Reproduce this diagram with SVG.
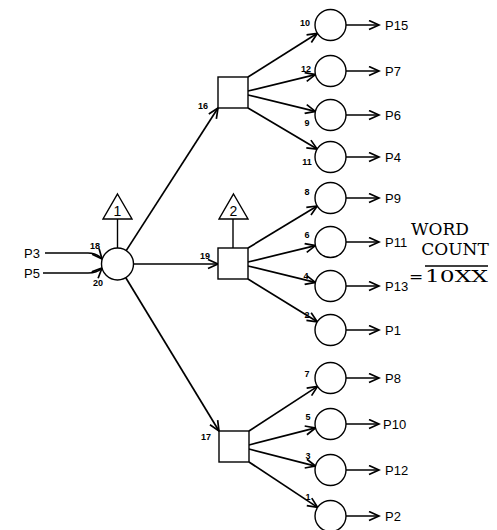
<svg xmlns="http://www.w3.org/2000/svg" width="497" height="530" viewBox="0 0 497 530">
<style>
.shape { fill: #fff; stroke: #000; stroke-width: 1.4; }
.conn { fill: none; stroke: #000; stroke-width: 1.7; marker-end: url(#ah); }
.plain { fill: none; stroke: #000; stroke-width: 1.4; }
.lbl { font-family: "Liberation Sans", Arial, sans-serif; font-size: 13px; fill: #000; }
.num { font-family: "Liberation Sans", Arial, sans-serif; font-size: 9px; font-weight: bold; text-anchor: middle; dominant-baseline: central; fill: #000; }
.tri { font-family: "Liberation Sans", Arial, sans-serif; font-size: 14px; text-anchor: middle; dominant-baseline: central; fill: #000; }
.wc { font-family: "DejaVu Serif", "Liberation Serif", serif; font-size: 17px; fill: #000; }
</style>
<defs>
<marker id="ah" markerUnits="userSpaceOnUse" markerWidth="13" markerHeight="11" refX="11" refY="5.5" orient="auto" viewBox="0 0 13 11">
<path d="M1,1 L11,5.5 L1,10" fill="none" stroke="#000" stroke-width="1.7"/>
</marker>
</defs>
<rect width="497" height="530" fill="#fff"/>

<g id="connectors">
<path class="conn" d="M45,253 L88,253 Q97,253 102,259"/>
<path class="conn" d="M43,273 L88,273 Q97,273 102,268"/>
<line class="plain" x1="117.5" y1="219" x2="117.5" y2="248"/>
<line class="plain" x1="233" y1="219" x2="233" y2="248"/>
<line class="conn" x1="126.2" y1="250.6" x2="218" y2="108"/>
<line class="conn" x1="133.5" y1="264" x2="218" y2="264"/>
<line class="conn" x1="125.8" y1="277.7" x2="219" y2="431"/>
<line class="conn" x1="248" y1="77" x2="317.4" y2="33.3"/>
<line class="conn" x1="248" y1="91" x2="315.4" y2="74.6"/>
<line class="conn" x1="248" y1="95" x2="315.4" y2="111.4"/>
<line class="conn" x1="248" y1="108" x2="317.2" y2="149.1"/>
<line class="conn" x1="248" y1="248" x2="317.2" y2="206"/>
<line class="conn" x1="248" y1="262" x2="315.4" y2="245.6"/>
<line class="conn" x1="248" y1="266" x2="315.4" y2="282.4"/>
<line class="conn" x1="248" y1="279" x2="317.3" y2="321.8"/>
<line class="conn" x1="249" y1="431" x2="317.5" y2="386.4"/>
<line class="conn" x1="249" y1="445" x2="315.5" y2="427.9"/>
<line class="conn" x1="249" y1="449" x2="315.5" y2="466.1"/>
<line class="conn" x1="249" y1="462" x2="317.6" y2="507.4"/>
<line class="conn" x1="346" y1="25" x2="379" y2="25"/>
<line class="conn" x1="346" y1="71" x2="379" y2="71"/>
<line class="conn" x1="346" y1="115" x2="379" y2="115"/>
<line class="conn" x1="346" y1="157" x2="379" y2="157"/>
<line class="conn" x1="346" y1="198" x2="379" y2="198"/>
<line class="conn" x1="346" y1="242" x2="379" y2="242"/>
<line class="conn" x1="346" y1="286" x2="379" y2="286"/>
<line class="conn" x1="346" y1="330" x2="379" y2="330"/>
<line class="conn" x1="346" y1="378" x2="379" y2="378"/>
<line class="conn" x1="346" y1="424" x2="379" y2="424"/>
<line class="conn" x1="346" y1="470" x2="379" y2="470"/>
<line class="conn" x1="346" y1="516" x2="379" y2="516"/>
<text class="num" x="95" y="246">18</text>
<text class="num" x="98" y="282.5">20</text>
<text class="num" x="203" y="106">16</text>
<text class="num" x="205" y="256">19</text>
<text class="num" x="206" y="437">17</text>
<text class="num" x="305" y="23">10</text>
<text class="num" x="306" y="69">12</text>
<text class="num" x="307" y="123">9</text>
<text class="num" x="307" y="162">11</text>
<text class="num" x="307" y="192">8</text>
<text class="num" x="307" y="235">6</text>
<text class="num" x="306" y="276">4</text>
<text class="num" x="307" y="315">2</text>
<text class="num" x="307" y="374">7</text>
<text class="num" x="308" y="417">5</text>
<text class="num" x="308" y="456">3</text>
<text class="num" x="308" y="497">1</text>
</g>

<g id="input-p3"><text class="lbl" x="24" y="258">P3</text></g>
<g id="input-p5"><text class="lbl" x="24" y="278">P5</text></g>

<g id="node-main"><circle class="shape" cx="117.5" cy="264" r="16"/></g>
<g id="tri-1"><polygon class="shape" points="117.5,194 132,219 103,219"/><text class="tri" x="117.5" y="210.5">1</text></g>
<g id="tri-2"><polygon class="shape" points="233.5,194 248,219 219,219"/><text class="tri" x="233.5" y="210.5">2</text></g>

<g id="square-16"><rect class="shape" x="218" y="77" width="30" height="31"/></g>
<g id="square-19"><rect class="shape" x="218" y="248" width="30" height="31"/></g>
<g id="square-17"><rect class="shape" x="219" y="431" width="30" height="31"/></g>

<g id="node-p15"><circle class="shape" cx="330.5" cy="25" r="15.5"/></g>
<g id="node-p7"><circle class="shape" cx="330.5" cy="71" r="15.5"/></g>
<g id="node-p6"><circle class="shape" cx="330.5" cy="115" r="15.5"/></g>
<g id="node-p4"><circle class="shape" cx="330.5" cy="157" r="15.5"/></g>
<g id="node-p9"><circle class="shape" cx="330.5" cy="198" r="15.5"/></g>
<g id="node-p11"><circle class="shape" cx="330.5" cy="242" r="15.5"/></g>
<g id="node-p13"><circle class="shape" cx="330.5" cy="286" r="15.5"/></g>
<g id="node-p1"><circle class="shape" cx="330.5" cy="330" r="15.5"/></g>
<g id="node-p8"><circle class="shape" cx="330.5" cy="378" r="15.5"/></g>
<g id="node-p10"><circle class="shape" cx="330.5" cy="424" r="15.5"/></g>
<g id="node-p12"><circle class="shape" cx="330.5" cy="470" r="15.5"/></g>
<g id="node-p2"><circle class="shape" cx="330.5" cy="516" r="15.5"/></g>

<g id="out-p15"><text class="lbl" x="385" y="29.5">P15</text></g>
<g id="out-p7"><text class="lbl" x="385" y="75.5">P7</text></g>
<g id="out-p6"><text class="lbl" x="385" y="119.5">P6</text></g>
<g id="out-p4"><text class="lbl" x="385" y="161.5">P4</text></g>
<g id="out-p9"><text class="lbl" x="385" y="202.5">P9</text></g>
<g id="out-p11"><text class="lbl" x="385" y="246.5">P11</text></g>
<g id="out-p13"><text class="lbl" x="385" y="290.5">P13</text></g>
<g id="out-p1"><text class="lbl" x="385" y="334.5">P1</text></g>
<g id="out-p8"><text class="lbl" x="385" y="382.5">P8</text></g>
<g id="out-p10"><text class="lbl" x="383" y="428.5">P10</text></g>
<g id="out-p12"><text class="lbl" x="385" y="474.5">P12</text></g>
<g id="out-p2"><text class="lbl" x="385" y="520.5">P2</text></g>

<g id="word-count">
<line x1="425" y1="266" x2="488" y2="266" stroke="#000" stroke-width="1.3"/>
<text class="wc" x="440" y="234.5" text-anchor="middle">WORD</text>
<text class="wc" x="455" y="254.5" text-anchor="middle">COUNT</text>
<text class="wc" x="409" y="282">=</text>
<text class="wc" x="425" y="282" textLength="63" lengthAdjust="spacingAndGlyphs">10XX</text>
</g>
</svg>
